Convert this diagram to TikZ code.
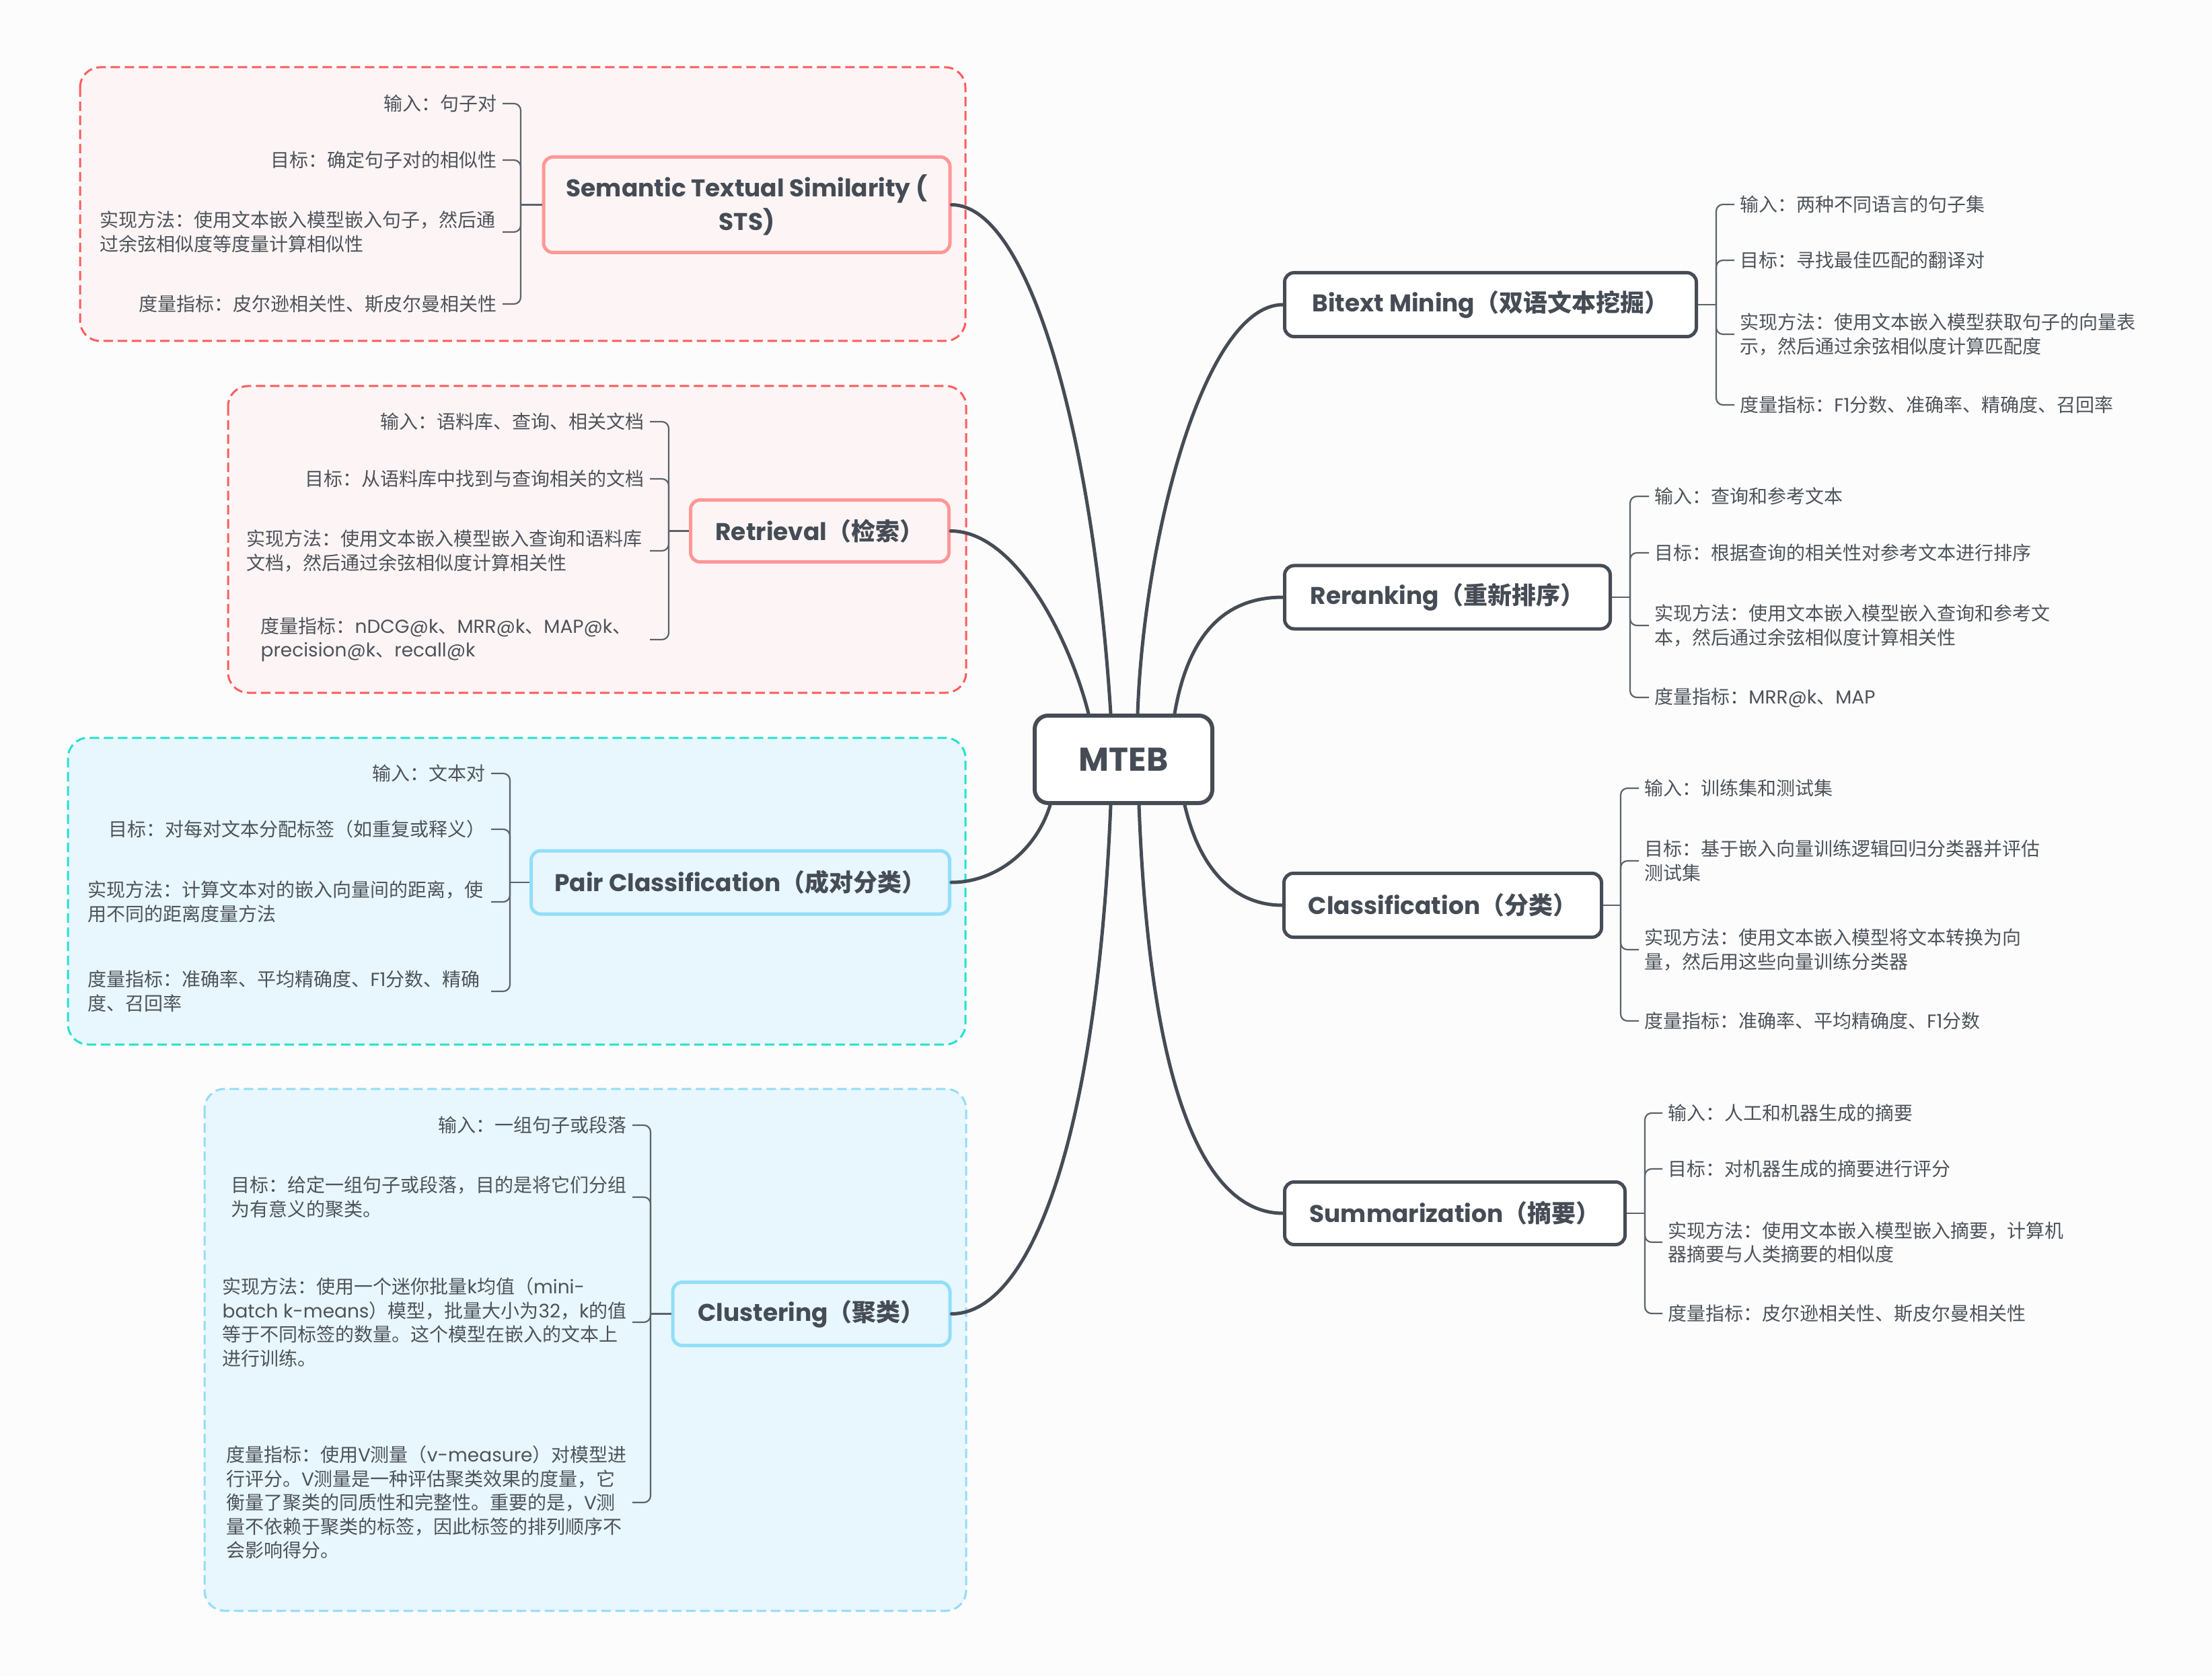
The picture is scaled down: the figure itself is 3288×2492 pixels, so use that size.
\documentclass[tikz,border=0pt]{standalone}
\usepackage{fontspec}
\setmainfont{Noto Sans CJK SC}
\newfontfamily\latfont{Poppins}
\newcommand\eng[1]{{\latfont #1}}
\usetikzlibrary{calc}
\definecolor{bgc}{HTML}{FCFCFC}
\definecolor{dark}{HTML}{454C55}
\definecolor{ctext}{HTML}{4D535A}
\definecolor{brc}{HTML}{5C636B}
\definecolor{pinkdash}{HTML}{FF5B5B}
\definecolor{pinkfill}{HTML}{FDF5F5}
\definecolor{pinkb}{HTML}{FF9797}
\definecolor{tealdash}{HTML}{22E3CB}
\definecolor{bluefill}{HTML}{E8F6FD}
\definecolor{bluedash}{HTML}{91DDF7}
\definecolor{blueb}{HTML}{92DEF8}
\begin{document}
\begin{tikzpicture}[x=0.5pt,y=-0.5pt,
  grp/.style={rounded corners=15pt, line width=1.5pt, dash pattern=on 7pt off 3.5pt},
  conn/.style={draw=dark, line width=2.5pt, line cap=round},
  br/.style={draw=brc, line width=1.1pt, rounded corners=5pt},
  ctxt/.style={align=left, inner xsep=4pt, inner ysep=2pt, text=ctext, font=\fontsize{14}{17.75}\selectfont},
  lt/.style={ctxt, anchor=east},
  rt/.style={ctxt, anchor=west},
  topic/.style={rectangle, rounded corners=7pt, line width=2.5pt, inner sep=0pt, text=dark, align=center, font=\fontsize{18}{25}\selectfont\bfseries},
  dtopic/.style={topic, draw=dark, fill=white},
  ptopic/.style={topic, draw=pinkb, fill=pinkfill},
  btopic/.style={topic, draw=blueb, fill=bluefill}]
\useasboundingbox (0,0) rectangle (3288,2492);
\fill[bgc] (0,0) rectangle (3288,2492);

% group boxes
\draw[grp, draw=pinkdash, fill=pinkfill] (119,100) rectangle (1435,507);
\draw[grp, draw=pinkdash, fill=pinkfill] (339,574) rectangle (1436,1030);
\draw[grp, draw=tealdash, fill=bluefill] (101,1097) rectangle (1435,1553);
\draw[grp, draw=bluedash, fill=bluefill] (304,1619) rectangle (1436,2395);

% central topic
\node[topic, draw=dark, fill=white, line width=3pt, rounded corners=10pt, minimum width=132pt, minimum height=65pt, font=\fontsize{24.5}{28}\selectfont\bfseries\latfont] (mteb) at (1670,1129) {MTEB};

% main topics
\node[ptopic, minimum width=302pt, minimum height=71pt, font=\fontsize{18}{25}\selectfont\bfseries\latfont] (sts) at (1110,304.5) {Semantic Textual Similarity (\\STS)};
\node[ptopic, minimum width=192pt, minimum height=46pt] (ret) at (1218.5,789.5) {{\latfont Retrieval}（检索）};
\node[btopic, minimum width=311pt, minimum height=47pt] (pair) at (1100.5,1312) {{\latfont Pair Classification}（成对分类）};
\node[btopic, minimum width=206pt, minimum height=47pt] (clu) at (1206,1953.5) {{\latfont Clustering}（聚类）};
\node[dtopic, minimum width=306pt, minimum height=47.5pt] (bit) at (2215.5,453) {{\latfont Bitext Mining}（双语文本挖掘）};
\node[dtopic, minimum width=242pt, minimum height=47pt] (rer) at (2151.5,888) {{\latfont Reranking}（重新排序）};
\node[dtopic, minimum width=236pt, minimum height=47.5pt] (cla) at (2144.5,1346) {{\latfont Classification}（分类）};
\node[dtopic, minimum width=253pt, minimum height=46.5pt] (sum) at (2162.5,1804) {{\latfont Summarization}（摘要）};

% main connectors
\draw[conn] ($(mteb.north)+(-19,0)$) .. controls (1625,650) and (1530,304.5) .. (sts.east);
\draw[conn] ($(mteb.north)+(-52,0)$) .. controls (1590,950) and (1510,789.5) .. (ret.east);
\draw[conn] ($(mteb.north)+(21,0)$) .. controls (1700,800) and (1790,453) .. (bit.west);
\draw[conn] ($(mteb.north)+(76,0)$) .. controls (1765,950) and (1815,888) .. (rer.west);
\draw[conn] ($(mteb.south)+(-109,0)$) .. controls (1540,1265) and (1480,1312) .. (pair.east);
\draw[conn] ($(mteb.south)+(-19,0)$) .. controls (1630,1700) and (1530,1953.5) .. (clu.east);
\draw[conn] ($(mteb.south)+(23,0)$) .. controls (1710,1650) and (1800,1804) .. (sum.west);
\draw[conn] ($(mteb.south)+(91,0)$) .. controls (1785,1300) and (1840,1346) .. (cla.west);

% ---------- STS children
\coordinate (stsH) at (774,304.5);
\node[lt] (s1) at (747,154) {输入：句子对};
\node[lt] (s2) at (747,238) {目标：确定句子对的相似性};
\node[lt, text width=295pt] (s3) at (747,345) {实现方法：使用文本嵌入模型嵌入句子，然后通\\过余弦相似度等度量计算相似性};
\node[lt] (s4) at (747,452) {度量指标：皮尔逊相关性、斯皮尔曼相关性};
\draw[br] (sts.west) -- (stsH);
\foreach \c in {s1,s2,s3,s4} \draw[br] (stsH) |- (\c.east);

% ---------- Retrieval children
\coordinate (retH) at (994,789.5);
\node[lt] (r1) at (966,627) {输入：语料库、查询、相关文档};
\node[lt] (r2) at (966,712) {目标：从语料库中找到与查询相关的文档};
\node[lt, text width=295.5pt] (r3) at (966,819) {实现方法：使用文本嵌入模型嵌入查询和语料库\\文档，然后通过余弦相似度计算相关性};
\node[lt, text width=285pt] (r4) at (966,951) {度量指标：\eng{nDCG@k}、\eng{MRR@k}、\eng{MAP@k}、\\\eng{precision@k}、\eng{recall@k}};
\draw[br] (ret.west) -- (retH);
\foreach \c in {r1,r2,r3,r4} \draw[br] (retH) |- (\c.east);

% ---------- Pair children
\coordinate (pairH) at (758,1312);
\node[lt] (p1) at (730,1150) {输入：文本对};
\node[lt] (p2) at (730,1233) {目标：对每对文本分配标签（如重复或释义）};
\node[lt, text width=295.5pt] (p3) at (730,1341) {实现方法：计算文本对的嵌入向量间的距离，使\\用不同的距离度量方法};
\node[lt, text width=295.5pt] (p4) at (730,1474) {度量指标：准确率、平均精确度、\eng{F1}分数、精确\\度、召回率};
\draw[br] (pair.west) -- (pairH);
\foreach \c in {p1,p2,p3,p4} \draw[br] (pairH) |- (\c.east);

% ---------- Clustering children
\coordinate (cluH) at (967,1953.5);
\node[lt] (c1) at (940,1673) {输入：一组句子或段落};
\node[lt, text width=294pt] (c2) at (940,1780) {目标：给定一组句子或段落，目的是将它们分组\\为有意义的聚类。};
\node[lt] (c3) at (940,1966) {实现方法：使用一个迷你批量\eng{k}均值（\eng{mini-}\\\eng{batch k-means}）模型，批量大小为\eng{32}，\eng{k}的值\\等于不同标签的数量。这个模型在嵌入的文本上\\进行训练。};
\node[lt] (c4) at (940,2234) {度量指标：使用\eng{V}测量（\eng{v-measure}）对模型进\\行评分。\eng{V}测量是一种评估聚类效果的度量，它\\衡量了聚类的同质性和完整性。重要的是，\eng{V}测\\量不依赖于聚类的标签，因此标签的排列顺序不\\会影响得分。};
\draw[br] (clu.west) -- (cluH);
\foreach \c in {c1,c2,c3,c4} \draw[br] (cluH) |- (\c.east);

% ---------- Bitext children
\coordinate (bitH) at (2551,453);
\node[rt] (b1) at (2578,304) {输入：两种不同语言的句子集};
\node[rt] (b2) at (2578,387) {目标：寻找最佳匹配的翻译对};
\node[rt] (b3) at (2578,497) {实现方法：使用文本嵌入模型获取句子的向量表\\示，然后通过余弦相似度计算匹配度};
\node[rt] (b4) at (2578,602) {度量指标：\eng{F1}分数、准确率、精确度、召回率};
\draw[br] (bit.east) -- (bitH);
\foreach \c in {b1,b2,b3,b4} \draw[br] (bitH) |- (\c.west);

% ---------- Reranking children
\coordinate (rerH) at (2423,888);
\node[rt] (k1) at (2451,738) {输入：查询和参考文本};
\node[rt] (k2) at (2451,822) {目标：根据查询的相关性对参考文本进行排序};
\node[rt] (k3) at (2451,930) {实现方法：使用文本嵌入模型嵌入查询和参考文\\本，然后通过余弦相似度计算相关性};
\node[rt] (k4) at (2451,1037) {度量指标：\eng{MRR@k}、\eng{MAP}};
\draw[br] (rer.east) -- (rerH);
\foreach \c in {k1,k2,k3,k4} \draw[br] (rerH) |- (\c.west);

% ---------- Classification children
\coordinate (claH) at (2409,1346);
\node[rt] (l1) at (2436,1172) {输入：训练集和测试集};
\node[rt] (l2) at (2436,1280) {目标：基于嵌入向量训练逻辑回归分类器并评估\\测试集};
\node[rt] (l3) at (2436,1412) {实现方法：使用文本嵌入模型将文本转换为向\\量，然后用这些向量训练分类器};
\node[rt] (l4) at (2436,1518) {度量指标：准确率、平均精确度、\eng{F1}分数};
\draw[br] (cla.east) -- (claH);
\foreach \c in {l1,l2,l3,l4} \draw[br] (claH) |- (\c.west);

% ---------- Summarization children
\coordinate (sumH) at (2445,1804);
\node[rt] (u1) at (2471,1655) {输入：人工和机器生成的摘要};
\node[rt] (u2) at (2471,1738) {目标：对机器生成的摘要进行评分};
\node[rt] (u3) at (2471,1847) {实现方法：使用文本嵌入模型嵌入摘要，计算机\\器摘要与人类摘要的相似度};
\node[rt] (u4) at (2471,1953) {度量指标：皮尔逊相关性、斯皮尔曼相关性};
\draw[br] (sum.east) -- (sumH);
\foreach \c in {u1,u2,u3,u4} \draw[br] (sumH) |- (\c.west);
\end{tikzpicture}
\end{document}
